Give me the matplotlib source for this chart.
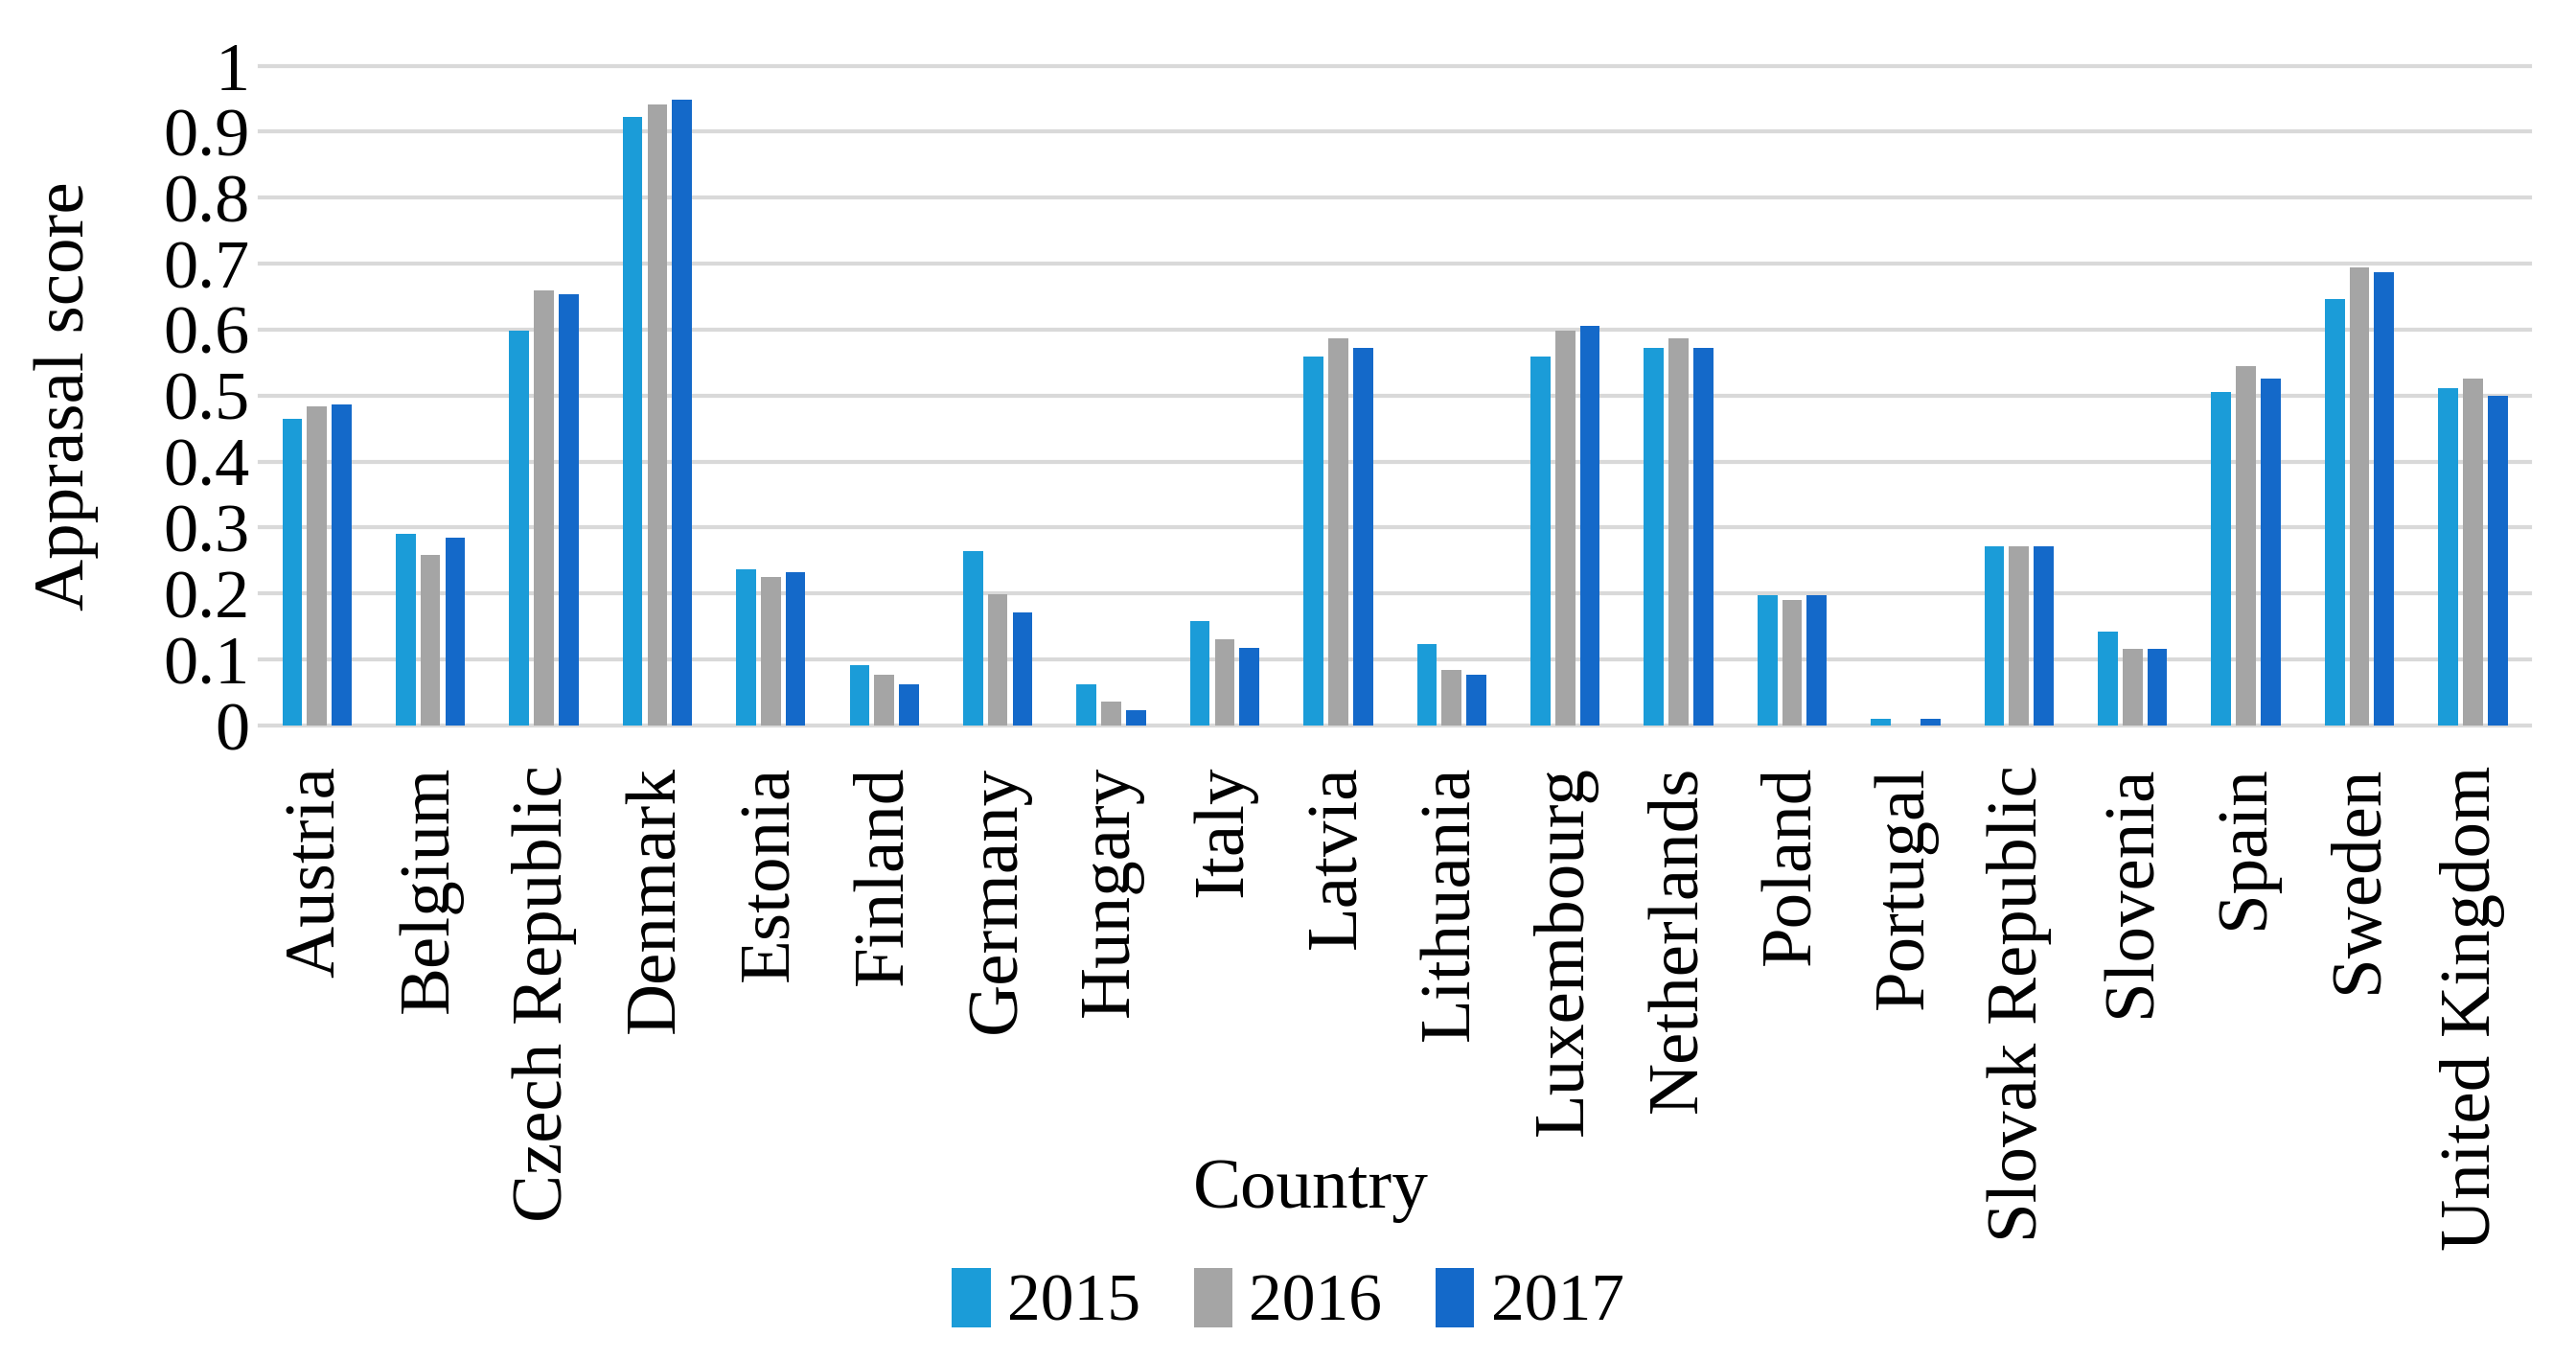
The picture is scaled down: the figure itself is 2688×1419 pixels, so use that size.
import numpy as np
import matplotlib
matplotlib.use("Agg")
import matplotlib.pyplot as plt

plt.rcParams['font.family'] = ['Liberation Serif', 'DejaVu Serif']

countries = ["Austria", "Belgium", "Czech Republic", "Denmark", "Estonia", "Finland",
             "Germany", "Hungary", "Italy", "Latvia", "Lithuania", "Luxembourg",
             "Netherlands", "Poland", "Portugal", "Slovak Republic", "Slovenia",
             "Spain", "Sweden", "United Kingdom"]
years = ["2015", "2016", "2017"]
y2015 = [0.465, 0.291, 0.599, 0.922, 0.237, 0.091, 0.264, 0.063, 0.158, 0.559,
         0.123, 0.559, 0.573, 0.198, 0.010, 0.271, 0.143, 0.506, 0.647, 0.512]
y2016 = [0.484, 0.258, 0.660, 0.941, 0.225, 0.077, 0.199, 0.037, 0.131, 0.587,
         0.084, 0.599, 0.587, 0.191, 0.000, 0.271, 0.116, 0.545, 0.695, 0.526]
y2017 = [0.486, 0.285, 0.654, 0.948, 0.232, 0.063, 0.171, 0.023, 0.117, 0.573,
         0.077, 0.606, 0.573, 0.198, 0.010, 0.271, 0.116, 0.526, 0.687, 0.499]
colors = ['#1b9cd8', '#a5a5a5', '#1469c9']

fig = plt.figure(figsize=(26.88, 14.19), dpi=100)
ax = fig.add_axes([0.101, 0.4665, 0.881, 0.4852])

x = np.arange(len(countries))
pitch = 0.218
width = 0.175
for i, (vals, c, lab) in enumerate(zip([y2015, y2016, y2017], colors, years)):
    ax.bar(x + (i - 1) * pitch, vals, width, color=c, label=lab, zorder=3)

ax.set_xlim(-0.5, len(countries) - 0.5)
ax.set_ylim(0, 1.0)
ax.set_yticks(np.arange(0, 1.01, 0.1))
ax.set_yticklabels(["0", "0.1", "0.2", "0.3", "0.4", "0.5", "0.6", "0.7", "0.8", "0.9", "1"])
ax.yaxis.grid(True, color='#d9d9d9', linewidth=3, zorder=0)
for gl in ax.get_ygridlines():
    gl.set_clip_on(False)
for s in ax.spines.values():
    s.set_visible(False)
ax.tick_params(axis='y', length=0, labelsize=52, pad=8)
ax.tick_params(axis='x', length=0, labelsize=54, pad=30)
ax.set_xticks(x)
ax.set_xticklabels(countries, rotation=90)
ax.set_ylabel("Apprasal score", fontsize=54, labelpad=48)
ax.set_xlabel("Country", fontsize=54)
ax.xaxis.set_label_coords(0.463, -0.655)

fig.legend(loc='center', bbox_to_anchor=(0.5, 0.043), ncol=3, frameon=False,
           fontsize=50, handlelength=0.58, handleheight=1.0, handletextpad=0.25,
           columnspacing=0.8)

fig.savefig("out.png", dpi=100, facecolor='white')
